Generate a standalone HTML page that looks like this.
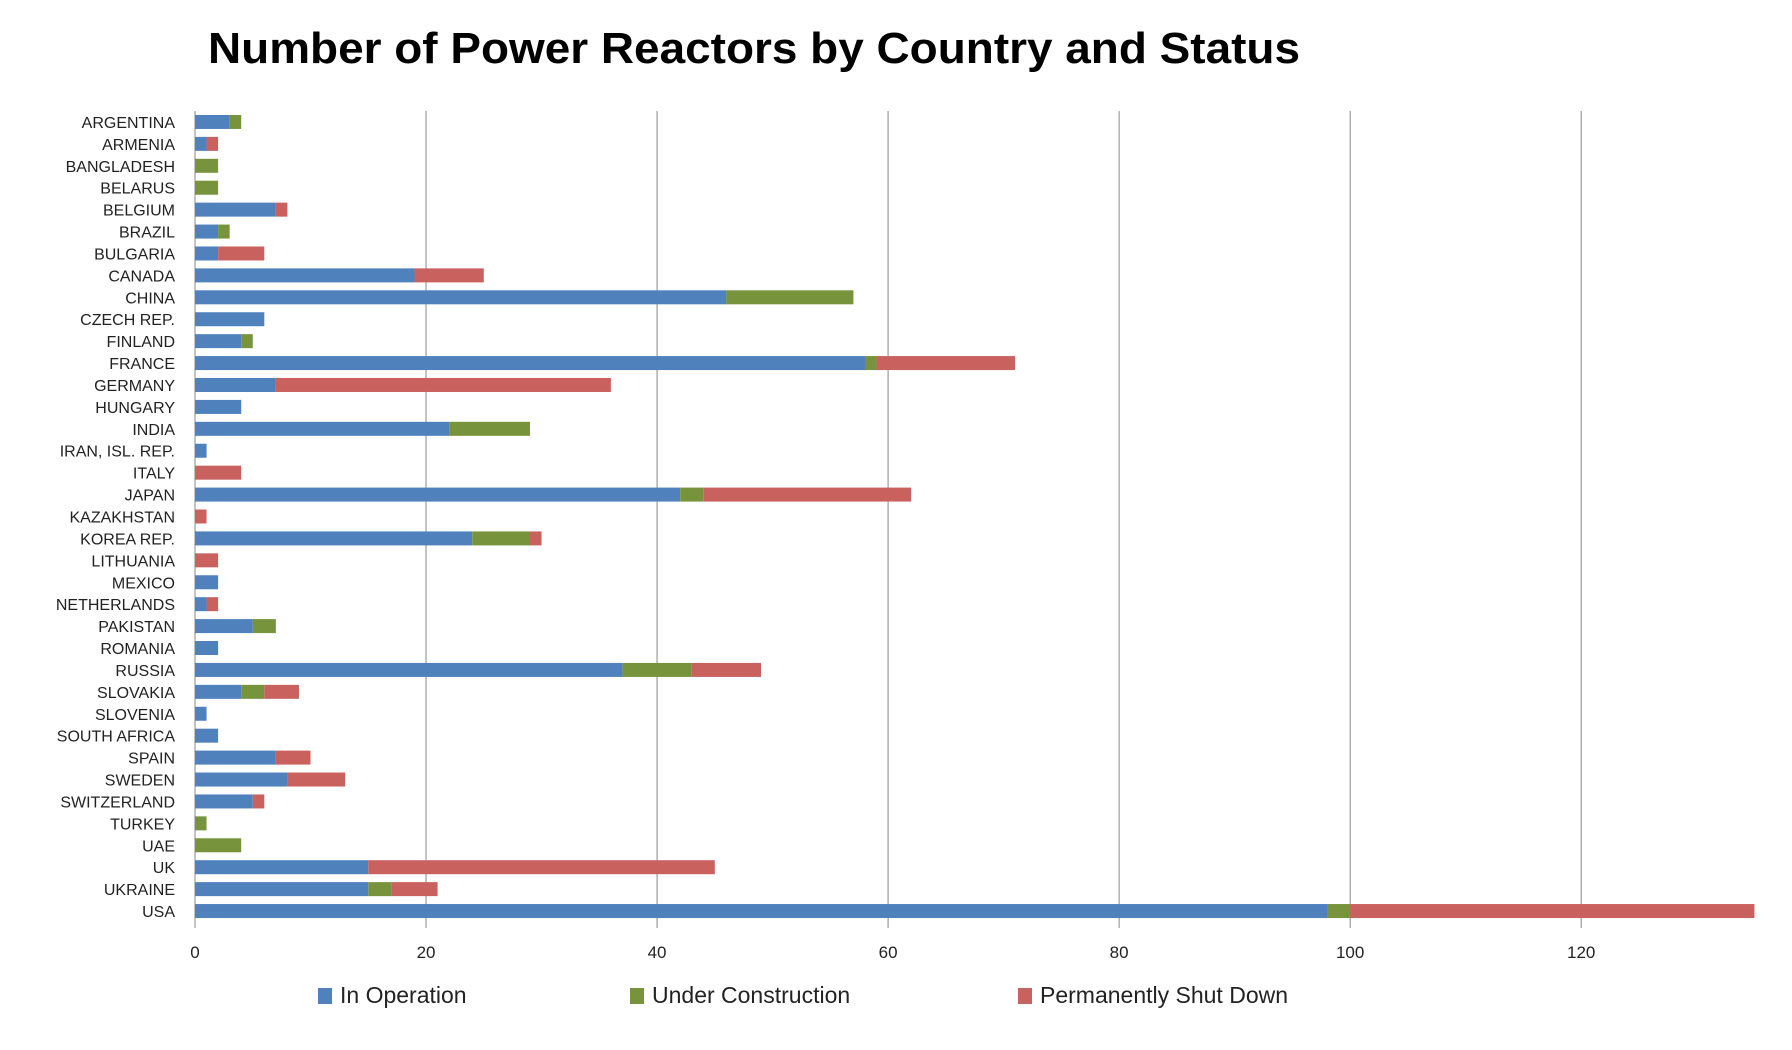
<!DOCTYPE html>
<html><head><meta charset="utf-8"><style>
body{margin:0;background:#fff;}
svg{display:block;font-family:"Liberation Sans",sans-serif;}
</style></head><body>
<svg id="chart" width="1792" height="1050" viewBox="0 0 1792 1050">
<text x="754" y="63" text-anchor="middle" font-size="44" font-weight="bold" fill="#000" textLength="1092" lengthAdjust="spacingAndGlyphs">Number of Power Reactors by Country and Status</text>
<g id="grid"></g><g id="bars"></g><g id="labels"></g><g id="legend"></g>
</svg>
<script>
const categories=["ARGENTINA","ARMENIA","BANGLADESH","BELARUS","BELGIUM","BRAZIL","BULGARIA","CANADA","CHINA","CZECH REP.","FINLAND","FRANCE","GERMANY","HUNGARY","INDIA","IRAN, ISL. REP.","ITALY","JAPAN","KAZAKHSTAN","KOREA REP.","LITHUANIA","MEXICO","NETHERLANDS","PAKISTAN","ROMANIA","RUSSIA","SLOVAKIA","SLOVENIA","SOUTH AFRICA","SPAIN","SWEDEN","SWITZERLAND","TURKEY","UAE","UK","UKRAINE","USA"];
const inOperation=[3,1,0,0,7,2,2,19,46,6,4,58,7,4,22,1,0,42,0,24,0,2,1,5,2,37,4,1,2,7,8,5,0,0,15,15,98];
const underConstruction=[1,0,2,2,0,1,0,0,11,0,1,1,0,0,7,0,0,2,0,5,0,0,0,2,0,6,2,0,0,0,0,0,1,4,0,2,2];
const shutDown=[0,1,0,0,1,0,4,6,0,0,0,12,29,0,0,0,4,18,1,1,2,0,1,0,0,6,3,0,0,3,5,1,0,0,30,4,35];
const tickValues=[0,20,40,60,80,100,120];
const seriesNames=["In Operation","Under Construction","Permanently Shut Down"];
const colors=["#4F81BD","#77933C","#C9625F"];
const NS="http://www.w3.org/2000/svg";
const X0=195,XMAX=136,XW=1571,YT=111,YB=922;
const n=categories.length,step=(YB-YT)/n;
function x(v){return X0+v/XMAX*XW;}
function yc(i){return YT+step*(i+0.5);}
function mk(tag,attrs,parent){const e=document.createElementNS(NS,tag);for(const k in attrs)e.setAttribute(k,attrs[k]);parent.appendChild(e);return e;}
const grid=document.getElementById('grid'),bars=document.getElementById('bars'),labels=document.getElementById('labels'),legend=document.getElementById('legend');
tickValues.forEach(t=>{
  const l=mk('line',{x1:x(t),x2:x(t),y1:YT,y2:YB+6,stroke:'#888','stroke-width':1},grid);
  
  
  const tx=mk('text',{x:x(t),y:958,'text-anchor':'middle','font-size':17,fill:'#222'},grid);
  tx.textContent=t;
  
  
});
const series=[inOperation,underConstruction,shutDown];
categories.forEach((c,i)=>{
  const lb=mk('text',{x:175,y:yc(i)+6,'text-anchor':'end','font-size':16,fill:'#222'},labels);
  lb.textContent=c;
  
  
  let acc=0;
  series.forEach((s,k)=>{
    const v=s[i];
    if(v>0){
      const r=mk('rect',{x:x(acc),y:yc(i)-7,width:x(acc+v)-x(acc),height:14,fill:colors[k]},bars);
      
      
    }
    acc+=v;
  });
});
const lx=[318,630,1018];
seriesNames.forEach((s,k)=>{
  const r=mk('rect',{x:lx[k],y:988,width:14,height:16,fill:colors[k]},legend);
  
  
  const t=mk('text',{x:lx[k]+22,y:1003,'font-size':23,fill:'#222'},legend);
  t.textContent=s;
  
  
});
</script>
</body></html>
